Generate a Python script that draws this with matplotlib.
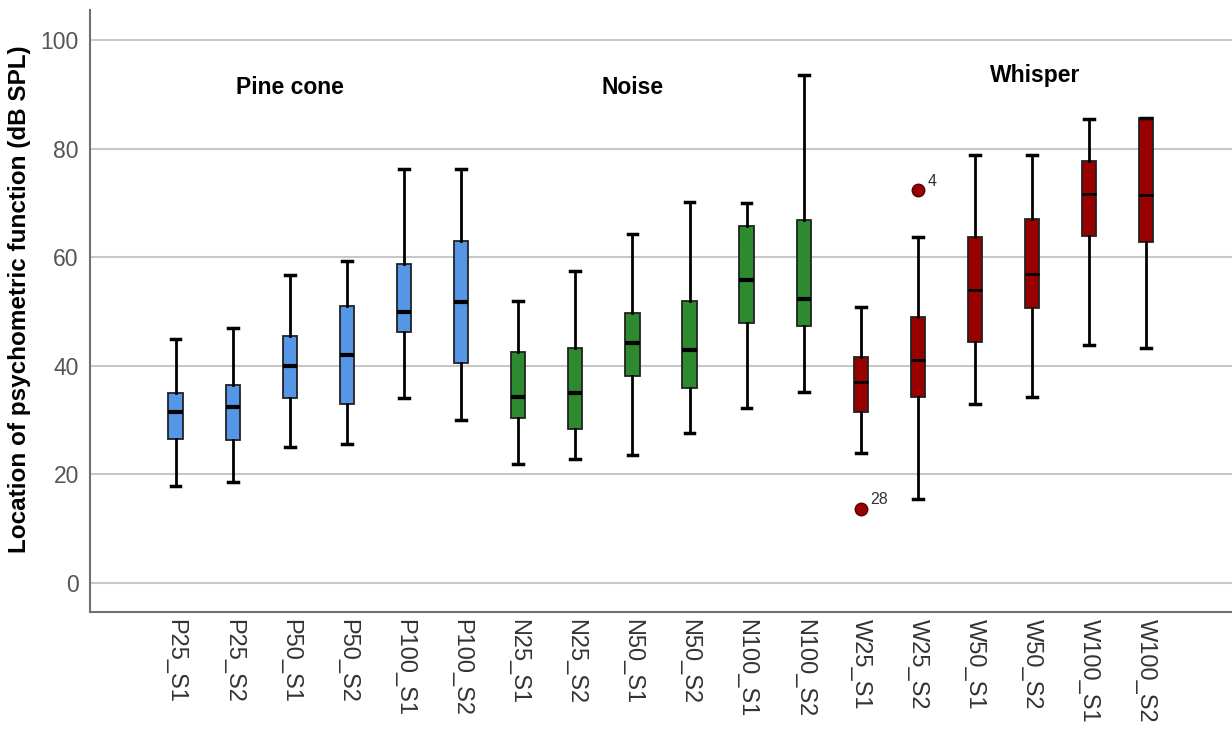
import matplotlib
matplotlib.use("Agg")
import matplotlib.pyplot as plt

plt.rcParams['font.family'] = ['Liberation Sans', 'DejaVu Sans']

labels = ['P25_S1', 'P25_S2', 'P50_S1', 'P50_S2', 'P100_S1', 'P100_S2',
          'N25_S1', 'N25_S2', 'N50_S1', 'N50_S2', 'N100_S1', 'N100_S2',
          'W25_S1', 'W25_S2', 'W50_S1', 'W50_S2', 'W100_S1', 'W100_S2']
whislo = [17.8, 18.6, 25.0, 25.6, 34.0, 30.0,
          22.0, 22.8, 23.6, 27.6, 32.2, 35.2,
          24.0, 15.4, 33.0, 34.3, 43.8, 43.3]
q1 = [26.5, 26.3, 34.0, 33.0, 46.3, 40.5,
      30.3, 28.3, 38.2, 36.0, 47.8, 47.4,
      31.4, 34.2, 44.3, 50.7, 64.0, 62.8]
med = [31.5, 32.5, 40.0, 42.0, 50.0, 51.7,
       34.3, 35.0, 44.2, 43.0, 55.8, 52.3,
       37.0, 41.0, 54.0, 57.0, 71.6, 71.4]
q3 = [35.0, 36.5, 45.5, 51.0, 58.8, 63.0,
      42.5, 43.2, 49.8, 52.0, 65.8, 66.8,
      41.6, 49.0, 63.8, 67.0, 77.7, 85.6]
whishi = [45.0, 47.0, 56.8, 59.3, 76.2, 76.2,
          52.0, 57.5, 64.2, 70.2, 70.0, 93.5,
          50.8, 63.8, 78.8, 78.8, 85.5, 85.6]
outliers = {12: ([13.7], ['28']), 13: ([72.3], ['4'])}

groups = ['Pine cone', 'Noise', 'Whisper']
group_colors = ['#5596E6', '#2E8A2E', '#990000']
group_label_pos = [(3, 91.2), (9, 91.2), (16.05, 93.4)]

fig = plt.figure(figsize=(12.32, 7.29), dpi=100)
ax = fig.add_axes([0.073, 0.1605, 0.927, 0.8255])

for i in range(len(labels)):
    g = i // 6
    col = group_colors[g]
    stats = [dict(med=med[i], q1=q1[i], q3=q3[i], whislo=whislo[i], whishi=whishi[i],
                  fliers=outliers.get(i, ([], []))[0])]
    ax.bxp(stats, positions=[i + 1], widths=0.25, patch_artist=True,
           boxprops=dict(facecolor=col, edgecolor='#222222', linewidth=1.3),
           medianprops=dict(color='black', linewidth=3 if g < 2 else 2),
           whiskerprops=dict(color='black', linewidth=2),
           capprops=dict(color='black', linewidth=2.5),
           capwidths=0.17,
           flierprops=dict(marker='o', markerfacecolor=col, markeredgecolor='#5a0000',
                           markersize=9),
           manage_ticks=False, zorder=3)
    if i in outliers:
        for v, t in zip(*outliers[i]):
            ax.annotate(t, (i + 1, v), xytext=(7, 3), textcoords='offset points',
                        fontsize=11.5, color='#333333')

for name, (xp, yp) in zip(groups, group_label_pos):
    ax.text(xp, yp, name, ha='center', va='center', fontsize=16.5, fontweight='bold',
            color='black')

ax.set_xlim(-0.5, 19.5)
ax.set_ylim(-5.35, 105.5)
ax.set_xticks(range(1, len(labels) + 1))
ax.set_xticklabels(labels, rotation=-90, fontsize=17, color='#333333')
ax.set_yticks([0, 20, 40, 60, 80, 100])
ax.tick_params(axis='y', labelsize=16.5, labelcolor='#555555', length=0, pad=8)
ax.tick_params(axis='x', length=0, pad=5)
ax.yaxis.grid(True, color='#c8c8c8', linewidth=1.5, zorder=0)
ax.set_axisbelow(True)
for s in ['top', 'right']:
    ax.spines[s].set_visible(False)
for s in ['left', 'bottom']:
    ax.spines[s].set_color('#707070')
    ax.spines[s].set_linewidth(1.5)

ax.set_ylabel('Location of psychometric function (dB SPL)', fontsize=17.5,
              fontweight='bold')
ax.yaxis.set_label_coords(-0.052, 0.52)

fig.savefig('out.png', dpi=100)
